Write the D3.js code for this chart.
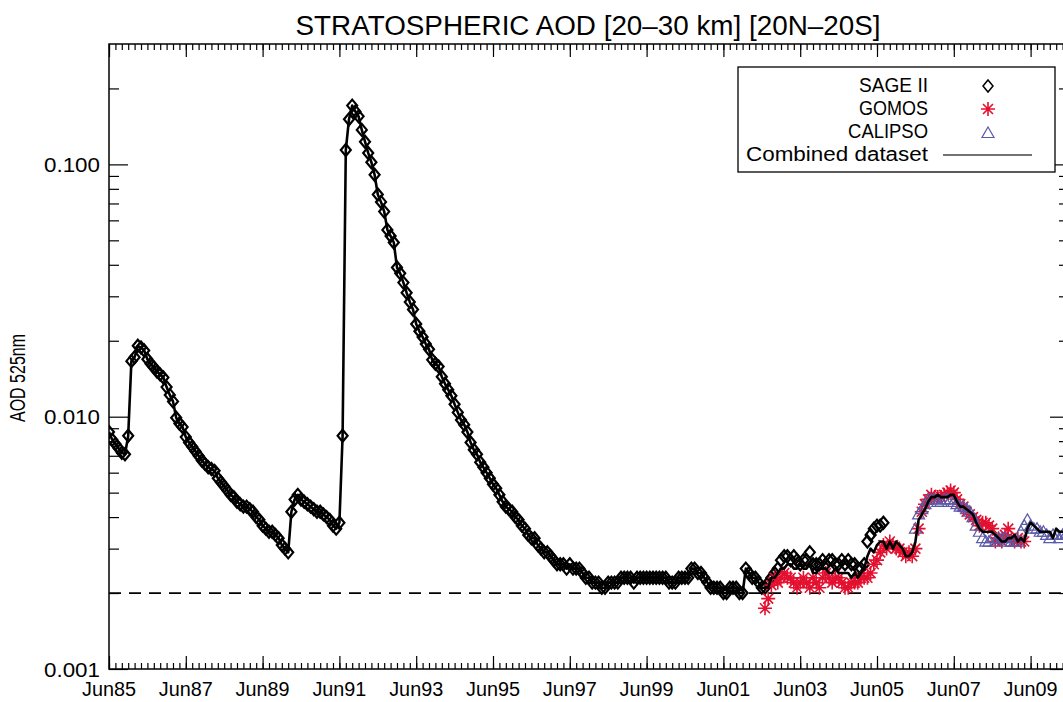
<!DOCTYPE html>
<html>
<head>
<meta charset="utf-8">
<script src="https://cdn.jsdelivr.net/npm/d3@7"></script>
<style>
  body { margin: 0; background: #fff; }
  text { font-family: "Liberation Sans", "DejaVu Sans", sans-serif; fill: #000; }
</style>
</head>
<body>
<svg id="chart" width="1063" height="702"></svg>
<script>
/** Monthly series, first month given as [year, month] */
var sageStart = [1985, 6];
var sageAod = [
  0.0087, 0.0081, 0.0078, 0.0075, 0.0072, 0.0071, 0.0084, 0.0166, 0.0172, 0.0191,
  0.0188, 0.0183, 0.0169, 0.0162, 0.0157, 0.0151, 0.0147, 0.0143, 0.0131, 0.0122,
  0.0115, 0.0099, 0.0094, 0.0091, 0.0083, 0.0079, 0.0076, 0.0073, 0.0070, 0.0067,
  0.0065, 0.0063, 0.0062, 0.0061, 0.0057, 0.0055, 0.0053, 0.0051, 0.0049, 0.0048,
  0.0046, 0.0045, 0.0044, 0.0044, 0.0043, 0.0042, 0.0040, 0.0039, 0.0037, 0.0036,
  0.0035, 0.0035, 0.0034, 0.0033, 0.0031, 0.0030, 0.0029, 0.0042, 0.0047, 0.0049,
  0.0047, 0.0046, 0.0045, 0.0044, 0.0043, 0.0042, 0.0042, 0.0041, 0.0040, 0.0039,
  0.0037, 0.0036, 0.0038, 0.0084, 0.114, 0.151, 0.171, 0.162, 0.155, 0.137,
  0.123, 0.111, 0.102, 0.091, 0.076, 0.071, 0.065, 0.055, 0.052, 0.049,
  0.039, 0.037, 0.034, 0.031, 0.0285, 0.0266, 0.0233, 0.0218, 0.0207, 0.0194,
  0.0185, 0.0168, 0.0162, 0.0158, 0.0144, 0.0135, 0.0128, 0.0121, 0.0112, 0.0104,
  0.0097, 0.0093, 0.0087, 0.0079, 0.0074, 0.0071, 0.0066, 0.0063, 0.0060, 0.0057,
  0.0054, 0.0052, 0.0049, 0.0046, 0.0044, 0.0043, 0.0042, 0.0040, 0.0039, 0.0037,
  0.0036, 0.0034, 0.0033, 0.0033, 0.0031, 0.0030, 0.0029, 0.0029, 0.0028, 0.0027,
  0.0026, 0.0026, 0.0026, 0.0025, 0.0026, 0.0025, 0.0025, 0.0025, 0.0024, 0.0023,
  0.0023, 0.0022, 0.0022, 0.0022, 0.0021, 0.0021, 0.0022, 0.0022, 0.0022, 0.0022,
  0.0023, 0.0023, 0.0023, 0.0023, 0.0022, 0.0023, 0.0023, 0.0023, 0.0023, 0.0023,
  0.0023, 0.0023, 0.0023, 0.0023, 0.0023, 0.0022, 0.0022, 0.0022, 0.0023, 0.0023,
  0.0023, 0.0023, 0.0025, 0.0025, 0.0024, 0.0024, 0.0023, 0.0022, 0.0021, 0.0021,
  0.0021, 0.0021, 0.0020, 0.0020, 0.0021, 0.0021, 0.0021, 0.0020, 0.0020, 0.0025,
  0.0024, 0.0023, 0.0023, 0.0022, 0.0021, 0.0021, 0.0022, 0.0023, 0.0024, 0.0025,
  0.0027, 0.0028, 0.0028, 0.0027, 0.0028, 0.0027, 0.0026, 0.0027, 0.0027, 0.0029,
  0.0026, 0.0026, 0.0026, 0.0027, 0.0026, 0.0027, 0.0027, 0.0026, 0.0026, 0.0027,
  0.0026, 0.0027, 0.0026, 0.0026, 0.0025, 0.0025, 0.0026, 0.0032, 0.0034, 0.0036,
  0.0037, 0.0037, 0.0038
];

var gomosStart = [2002, 7];
var gomosAod = [
  0.00174, 0.0019, 0.00215, 0.0023, 0.0022, 0.0023,
  0.0024, 0.0023, 0.0023, 0.0022, 0.0021, 0.0022, 0.0023, 0.0022, 0.0021, 0.0023, 0.0022, 0.0021,
  0.0023, 0.0024, 0.0023, 0.0022, 0.0023, 0.0023, 0.0022, 0.0021, 0.0021, 0.0022, 0.0022, 0.0022,
  0.0023, 0.0023, 0.0023, 0.0024, 0.0026, 0.0027, 0.0029, 0.0031, 0.0030, 0.0032, 0.0031, 0.0030,
  0.0030, 0.0029, 0.0028, 0.0029, 0.0028, 0.0030, 0.0036, 0.0042, 0.0045, 0.0047, 0.0049, 0.0048,
  0.0048, 0.0048, 0.0049, 0.0050, 0.0051, 0.0050, 0.0047, 0.0045, 0.0044, 0.0042, 0.0041, 0.0040,
  0.0039, 0.0037, 0.0038, 0.0038, 0.0037, 0.0036, 0.0032, 0.0033, 0.0032, 0.0034, 0.0036, 0.0033,
  0.0032, 0.0033, 0.0032, 0.0032
];

var calipsoStart = [2006, 6];
var calipsoAod = [
  0.0036, 0.0041, 0.0043, 0.0045, 0.0047, 0.0047, 0.0047,
  0.0046, 0.0046, 0.0047, 0.0047, 0.0047, 0.0046, 0.0045, 0.0044, 0.0044, 0.0043, 0.0042, 0.0040,
  0.0037, 0.0035, 0.0033, 0.0032, 0.0032, 0.0033, 0.0032, 0.0033, 0.0033, 0.0033, 0.0032, 0.0032,
  0.0032, 0.0032, 0.0035, 0.0037, 0.0039, 0.0037, 0.0036, 0.0036, 0.0035, 0.0035, 0.0034, 0.0033,
  0.0034, 0.0034, 0.0033, 0.0034, 0.0034
];

/** Combined dataset follows SAGE II until GOMOS starts, then these values */
var combinedTailStart = [2002, 7];
var combinedTailAod = [
  0.0021, 0.0021, 0.0023, 0.0023, 0.0024, 0.0025,
  0.0025, 0.0026, 0.0026, 0.0025, 0.0025, 0.0026, 0.0025, 0.0025, 0.0026, 0.0024, 0.0024, 0.0025,
  0.0025, 0.0025, 0.0024, 0.0024, 0.0025, 0.0024, 0.0024, 0.0024, 0.0024, 0.0023, 0.0024, 0.0023,
  0.0024, 0.0025, 0.0028, 0.0030, 0.0029, 0.0031, 0.0032, 0.0032, 0.0030, 0.0032, 0.0030, 0.0032,
  0.0031, 0.0030, 0.0028, 0.0028, 0.0029, 0.0032, 0.0039, 0.0041, 0.0043, 0.0046, 0.0048, 0.0048,
  0.0049, 0.0048, 0.0048, 0.0048, 0.0049, 0.0049, 0.0046, 0.0044, 0.0044, 0.0043, 0.0042, 0.0041,
  0.0038, 0.0036, 0.0035, 0.0035, 0.0035, 0.0035, 0.0034, 0.0033, 0.0032, 0.0032, 0.0033, 0.0033,
  0.0034, 0.0032, 0.0033, 0.0032, 0.0036, 0.0038, 0.0037, 0.0036, 0.0035, 0.0035, 0.0035, 0.0035,
  0.0033, 0.0036, 0.0035, 0.0035, 0.0035
];

/** Axis ticks and labels */
var yMajorTicks = [0.001, 0.01, 0.1];
var yMajorLabels = ['0.001', '0.010', '0.100'];
var xMajorYears = [1985, 1987, 1989, 1991, 1993, 1995, 1997, 1999, 2001, 2003, 2005, 2007, 2009];
var xMajorLabels = ['Jun85', 'Jun87', 'Jun89', 'Jun91', 'Jun93', 'Jun95', 'Jun97',
                    'Jun99', 'Jun01', 'Jun03', 'Jun05', 'Jun07', 'Jun09'];
var backgroundLevel = 0.002;

var legendNames = ['SAGE II', 'GOMOS', 'CALIPSO', 'Combined dataset'];

/** Layout */
var margin = {left: 109, top: 44, right: 1069, bottom: 669};
var red = '#e3102f',
    blue = '#5a5aa8';

function monthTime(start, i) {
    return start[0] + (start[1] - 1 + i) / 12;
}
function toPoints(start, values) {
    return values.map(function(v, i) {
        return {t: monthTime(start, i), v: v};
    });
}

/** Adds a text squeezed horizontally to a given width (the original uses a narrow vector font) */
function addText(parent, x, y, str, size, anchor, width, rotate) {
    var g = parent.append('g')
        .attr('transform', 'translate(' + x + ',' + y + ')' + (rotate ? ' rotate(' + rotate + ')' : ''));
    var t = g.append('text')
        .attr('font-size', size)
        .attr('text-anchor', anchor)
        .text(str);
    var w = t.node().getComputedTextLength();
    if (width && w > 0) t.attr('transform', 'scale(' + (width / w) + ',1)');
    return t;
}

var sagePts = toPoints(sageStart, sageAod),
    gomosPts = toPoints(gomosStart, gomosAod),
    calipsoPts = toPoints(calipsoStart, calipsoAod),
    tailPts = toPoints(combinedTailStart, combinedTailAod);
var tailT0 = tailPts[0].t;
var combinedPts = sagePts.filter(function(d) { return d.t < tailT0 - 1e-6; }).concat(tailPts);

var x = d3.scaleLinear()
    .domain([1985 + 5 / 12, 2010 + 5 / 12])
    .range([margin.left, margin.right]);
var y = d3.scaleLog()
    .domain([0.001, 0.3])
    .range([margin.bottom, margin.top]);

var svg = d3.select('#chart');

svg.append('defs').append('clipPath').attr('id', 'plotClip')
    .append('rect')
    .attr('x', margin.left).attr('y', margin.top)
    .attr('width', margin.right - margin.left)
    .attr('height', margin.bottom - margin.top);

// Title
addText(svg, 588, 35, 'STRATOSPHERIC AOD [20\u201330 km] [20N\u201320S]', 28, 'middle', 585);

// Minor tick values
var yMinor = [];
[0.001, 0.01, 0.1].forEach(function(dec) {
    for (var k = 2; k <= 9; k++) {
        if (dec * k <= 0.3) yMinor.push(dec * k);
    }
});
var xMajor = xMajorYears.map(function(yr) { return yr + 5 / 12; });
var xMinor = d3.range(0, 151).map(function(i) { return 1985 + 5 / 12 + i / 6; })
    .filter(function(t) { return t <= 2010 + 5 / 12 + 1e-6; });

function styleAxis(g) {
    g.select('.domain').remove();
    g.selectAll('line').attr('stroke', '#000').attr('stroke-width', 1.2);
    g.selectAll('text').remove();
}

// Left / right axes
svg.append('g').attr('transform', 'translate(' + margin.left + ',0)')
    .call(d3.axisLeft(y).tickValues(yMajorTicks).tickSize(-19)).call(styleAxis);
svg.append('g').attr('transform', 'translate(' + margin.left + ',0)')
    .call(d3.axisLeft(y).tickValues(yMinor).tickSize(-10)).call(styleAxis);
svg.append('g').attr('transform', 'translate(' + margin.right + ',0)')
    .call(d3.axisRight(y).tickValues(yMajorTicks).tickSize(-19)).call(styleAxis);
svg.append('g').attr('transform', 'translate(' + margin.right + ',0)')
    .call(d3.axisRight(y).tickValues(yMinor).tickSize(-10)).call(styleAxis);

// Bottom / top axes
svg.append('g').attr('transform', 'translate(0,' + margin.bottom + ')')
    .call(d3.axisBottom(x).tickValues(xMajor).tickSize(-13)).call(styleAxis);
svg.append('g').attr('transform', 'translate(0,' + margin.bottom + ')')
    .call(d3.axisBottom(x).tickValues(xMinor).tickSize(-6)).call(styleAxis);
svg.append('g').attr('transform', 'translate(0,' + margin.top + ')')
    .call(d3.axisTop(x).tickValues(xMajor).tickSize(-13)).call(styleAxis);
svg.append('g').attr('transform', 'translate(0,' + margin.top + ')')
    .call(d3.axisTop(x).tickValues(xMinor).tickSize(-6)).call(styleAxis);

// Frame
svg.append('rect')
    .attr('x', margin.left).attr('y', margin.top)
    .attr('width', margin.right - margin.left)
    .attr('height', margin.bottom - margin.top)
    .attr('fill', 'none').attr('stroke', '#000').attr('stroke-width', 1.5);

// Tick labels
var labels = svg.append('g');
yMajorTicks.forEach(function(d, i) {
    addText(labels, 100, y(d) + 7.5, yMajorLabels[i], 21, 'end', 56);
});
xMajor.forEach(function(d, i) {
    addText(labels, x(d), 696, xMajorLabels[i], 21, 'middle', 54);
});

// Y axis title
addText(svg, 25, 378, 'AOD 525nm', 22, 'middle', 88, -90);

var plot = svg.append('g').attr('clip-path', 'url(#plotClip)');

// Background level
plot.append('line')
    .attr('x1', margin.left).attr('x2', margin.right)
    .attr('y1', y(backgroundLevel)).attr('y2', y(backgroundLevel))
    .attr('stroke', '#000').attr('stroke-width', 1.8)
    .attr('stroke-dasharray', '12,8');

// Marker shapes
var diamondPath = 'M0,-6L5,0L0,6L-5,0Z',
    starPath = 'M0,-7L0,7M-7,0L7,0M-5,-5L5,5M-5,5L5,-5',
    trianglePath = 'M0,-6L6,4.5L-6,4.5Z';

plot.append('g').selectAll('path')
    .data(sagePts)
    .enter().append('path')
    .attr('d', diamondPath)
    .attr('transform', function(d) { return 'translate(' + x(d.t) + ',' + y(d.v) + ')'; })
    .attr('fill', 'none').attr('stroke', '#000').attr('stroke-width', 2.2);

plot.append('g').selectAll('path')
    .data(gomosPts)
    .enter().append('path')
    .attr('d', starPath)
    .attr('transform', function(d) { return 'translate(' + x(d.t) + ',' + y(d.v) + ')'; })
    .attr('fill', 'none').attr('stroke', red).attr('stroke-width', 1.6);

plot.append('g').selectAll('path')
    .data(calipsoPts)
    .enter().append('path')
    .attr('d', trianglePath)
    .attr('transform', function(d) { return 'translate(' + x(d.t) + ',' + y(d.v) + ')'; })
    .attr('fill', 'none').attr('stroke', blue).attr('stroke-width', 1.2);

var line = d3.line()
    .x(function(d) { return x(d.t); })
    .y(function(d) { return y(d.v); });

plot.append('path')
    .datum(combinedPts)
    .attr('d', line)
    .attr('fill', 'none')
    .attr('stroke', '#000')
    .attr('stroke-width', 2.6)
    .attr('stroke-linejoin', 'round');

// Legend
var legend = svg.append('g');
legend.append('rect')
    .attr('x', 738).attr('y', 67)
    .attr('width', 317).attr('height', 105)
    .attr('fill', '#fff').attr('stroke', '#000').attr('stroke-width', 1.3);

var legendWidths = [69, 69, 80, 182];
legendNames.forEach(function(name, i) {
    addText(legend, 928, 92 + i * 23, name, 21, 'end', legendWidths[i]);
});

legend.append('path').attr('d', diamondPath)
    .attr('transform', 'translate(988,86)')
    .attr('fill', 'none').attr('stroke', '#000').attr('stroke-width', 1.5);
legend.append('path').attr('d', starPath)
    .attr('transform', 'translate(988,109)')
    .attr('fill', 'none').attr('stroke', red).attr('stroke-width', 1.6);
legend.append('path').attr('d', trianglePath)
    .attr('transform', 'translate(988,133)')
    .attr('fill', 'none').attr('stroke', blue).attr('stroke-width', 1.2);
legend.append('line')
    .attr('x1', 943).attr('x2', 1032)
    .attr('y1', 155).attr('y2', 155)
    .attr('stroke', '#444').attr('stroke-width', 1.4);
</script>
</body>
</html>
